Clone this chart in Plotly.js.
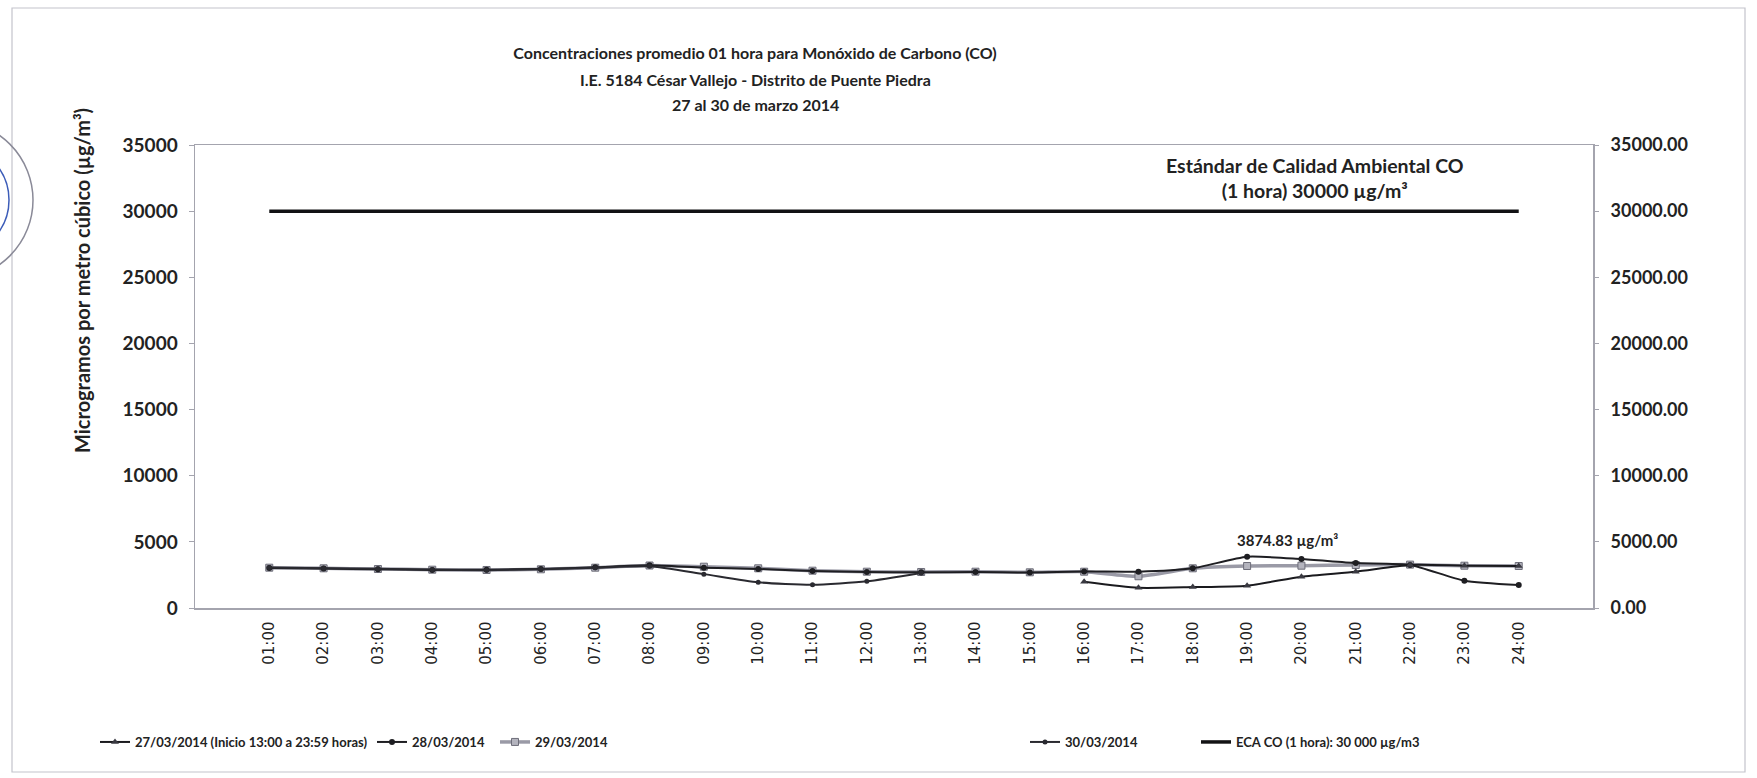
<!DOCTYPE html>
<html>
<head>
<meta charset="utf-8">
<script src="https://cdn.plot.ly/plotly-3.0.1.min.js"></script>
<style>
  html, body { margin: 0; padding: 0; background: #fff; }
  #chart { width: 1757px; height: 778px; }
</style>
</head>
<body>
<div id="chart"></div>
<script>
// ---- data ----
const hours = ['01:00','02:00','03:00','04:00','05:00','06:00','07:00','08:00','09:00','10:00','11:00','12:00',
               '13:00','14:00','15:00','16:00','17:00','18:00','19:00','20:00','21:00','22:00','23:00','24:00'];

const serie27 = [null,null,null,null,null,null,null,null,null,null,null,null,
                 null,null,null,1988,1530,1580,1686,2366,2744,3250,3200,3175];
const serie28 = [3020,2980,2930,2880,2900,2950,3080,3230,3050,2950,2800,2720,
                 2700,2720,2680,2760,2744,3001,3874.83,3700,3400,3250,2064,1739];
const serie29 = [3047,3001,2948,2895,2873,2926,3047,3213,3122,3001,2820,2744,
                 2722,2744,2699,2744,2400,3001,3175,3198,3250,3280,3198,3175];
const serie30 = [3060,3010,2960,2910,2860,2930,3050,3150,2560,1943,1762,2018,
                 2650,null,null,null,null,null,null,null,null,null,null,null];
const eca = [30000,30000,30000,30000,30000,30000,30000,30000,30000,30000,30000,30000,
             30000,30000,30000,30000,30000,30000,30000,30000,30000,30000,30000,30000];

const names = ['27/03/2014 (Inicio 13:00 a 23:59 horas)', '28/03/2014', '29/03/2014', '30/03/2014',
               'ECA CO (1 hora): 30 000 µg/m3'];
const peakLabel = '3874.83 µg/m³';
const ecaLabel = 'Estándar de Calidad Ambiental CO<br>(1 hora) 30000 µg/m³';
const titleLines = ['Concentraciones promedio 01 hora para Monóxido de Carbono (CO)',
                    'I.E. 5184 César Vallejo - Distrito de Puente Piedra',
                    '27 al 30 de marzo 2014'];
const yTitle = 'Microgramos por metro cúbico (µg/m³)';

// ---- styles ----
const BOLDF = 'Lato, Open Sans, sans-serif';
const TXT = '#222222';
const FRAME = '#a4a4ae';

const traces = [
  { x: hours, y: serie29, name: names[2], type: 'scatter', mode: 'lines+markers', legend: 'legend3',
    line: { color: '#9a9aa6', width: 3.5, shape: 'spline', smoothing: 0.6 },
    marker: { symbol: 'square', size: 7, color: '#b4b4be', line: { color: '#6e6e7a', width: 1 } } },
  { x: hours, y: serie28, name: names[1], type: 'scatter', mode: 'lines+markers', legend: 'legend2',
    line: { color: '#1e1e22', width: 2, shape: 'spline', smoothing: 0.6 },
    marker: { symbol: 'circle', size: 6, color: '#1e1e22' } },
  { x: hours, y: serie30, name: names[3], type: 'scatter', mode: 'lines+markers', legend: 'legend4',
    line: { color: '#2a2a30', width: 2, shape: 'spline', smoothing: 0.6 },
    marker: { symbol: 'circle', size: 5, color: '#2a2a30' } },
  { x: hours, y: serie27, name: names[0], type: 'scatter', mode: 'lines+markers', legend: 'legend',
    line: { color: '#1a1a1e', width: 2, shape: 'spline', smoothing: 0.6 },
    marker: { symbol: 'triangle-up', size: 7, color: '#3a3a42' } },
  { x: hours, y: eca, name: names[4], type: 'scatter', mode: 'lines', legend: 'legend5', yaxis: 'y2',
    line: { color: '#121214', width: 3.5 } }
];

// plot area in pixels: x 195..1593, y 145..608
const PL = 195, PW = 1398, PB = 608, PH = 463;
const px = v => (v - PL) / PW;
const py = v => (PB - v) / PH;

function legendAt(textX) {
  return {
    x: px(textX - 44), y: py(742), xanchor: 'left', yanchor: 'middle',
    orientation: 'h', bgcolor: 'rgba(0,0,0,0)', borderwidth: 0, itemwidth: 30,
    font: { family: BOLDF, size: 13, weight: 'bold', color: TXT }
  };
}

const titleFont = { family: BOLDF, size: 16, weight: 'bold', color: TXT };

const layout = {
  width: 1757, height: 778, autosize: false,
  paper_bgcolor: '#ffffff', plot_bgcolor: '#ffffff',
  margin: { l: 195, r: 164, t: 145, b: 170 },
  title: {
    text: titleLines[0], x: 755 / 1757, xanchor: 'center', xref: 'container',
    y: 1 - 53 / 778, yanchor: 'middle', yref: 'container',
    font: titleFont
  },
  xaxis: {
    type: 'category', tickangle: -90, showgrid: false, zeroline: false,
    showline: true, linecolor: FRAME, linewidth: 1.5, mirror: true, ticks: '',
    ticklabelstandoff: 6,
    tickfont: { family: 'DejaVu Sans, sans-serif', size: 15, color: TXT }
  },
  yaxis: {
    range: [0, 35000], tick0: 0, dtick: 5000, tickformat: 'd',
    showgrid: false, zeroline: false, showline: true, linecolor: FRAME, linewidth: 1.5, mirror: true,
    ticks: 'outside', ticklen: 5, tickcolor: FRAME, ticklabelstandoff: 7,
    tickfont: { family: BOLDF, size: 19, weight: 'bold', color: TXT }
  },
  yaxis2: {
    overlaying: 'y', side: 'right', range: [0, 35000], tick0: 0, dtick: 5000, tickformat: '.2f',
    showgrid: false, zeroline: false, showline: false,
    ticks: 'outside', ticklen: 5, tickcolor: FRAME, ticklabelstandoff: 8,
    tickfont: { family: BOLDF, size: 18, weight: 'bold', color: TXT }
  },
  legend: legendAt(139),
  legend2: legendAt(416),
  legend3: legendAt(539),
  legend4: legendAt(1069),
  legend5: legendAt(1240),
  annotations: [
    { xref: 'paper', yref: 'paper', x: px(755), y: py(79), text: titleLines[1],
      showarrow: false, xanchor: 'center', yanchor: 'middle', font: titleFont },
    { xref: 'paper', yref: 'paper', x: px(755), y: py(105), text: titleLines[2],
      showarrow: false, xanchor: 'center', yanchor: 'middle', font: titleFont },
    { xref: 'paper', yref: 'paper', x: px(82), y: py(281), text: yTitle, textangle: -90,
      showarrow: false, xanchor: 'center', yanchor: 'middle',
      font: { family: BOLDF, size: 20, weight: 'bold', color: TXT } },
    { xref: 'paper', yref: 'paper', x: px(1315), y: py(178), text: ecaLabel,
      showarrow: false, xanchor: 'center', yanchor: 'middle', align: 'center',
      font: { family: BOLDF, size: 19.5, weight: 'bold', color: TXT } },
    { xref: 'x', yref: 'y', x: hours[18], y: serie28[18], text: peakLabel,
      showarrow: false, xanchor: 'center', yanchor: 'bottom', xshift: 40, yshift: 6,
      font: { family: BOLDF, size: 15, weight: 'bold', color: TXT } }
  ],
  shapes: [
    { type: 'rect', xref: 'paper', yref: 'paper', x0: px(12), x1: px(1745), y0: py(772), y1: py(8),
      line: { color: '#c4c4cc', width: 1.2 }, layer: 'below' },
    { type: 'circle', xref: 'paper', yref: 'paper', x0: px(-125), x1: px(33), y0: py(279), y1: py(121),
      line: { color: '#8a8a98', width: 1.5 } },
    { type: 'circle', xref: 'paper', yref: 'paper', x0: px(-101), x1: px(9), y0: py(255), y1: py(145),
      line: { color: '#3c5cb8', width: 1.5 } }
  ],
  showlegend: true
};

Plotly.newPlot('chart', traces, layout, { displayModeBar: false, staticPlot: true });
</script>
</body>
</html>
